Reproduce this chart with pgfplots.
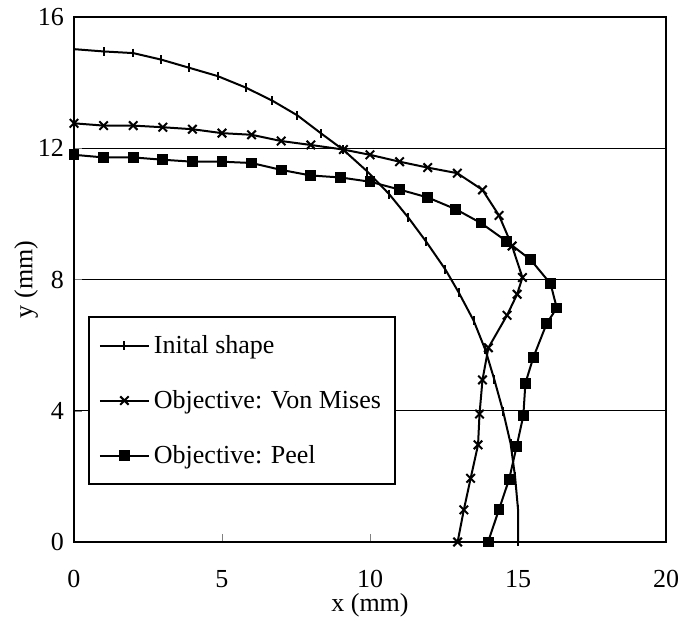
\documentclass[border=0pt]{standalone}
\usepackage{fontspec}
\setmainfont{Liberation Serif}
\usepackage{pgfplots}
\pgfplotsset{compat=1.18}

\begin{document}
\begin{tikzpicture}[font=\fontsize{13}{15.6}\selectfont]
  \begin{axis}[
    scale only axis,
    width=296pt, height=262.5pt,
    xmin=0, xmax=20, ymin=0, ymax=16,
    xtick={0,5,10,15,20},
    ytick={0,4,8,12,16},
    tick pos=left,
    tick align=inside,
    major tick length=4pt,
    axis line style={line width=1pt},
    ymajorgrids,
    major grid style={black, line width=0.7pt},
    /pgf/number format/assume math mode=true,
    xticklabel style={yshift=-10.5pt},
    yticklabel style={xshift=-1.5pt},
    xlabel={x (mm)},
    ylabel={y (mm)},
    xlabel style={at={(axis description cs:0.5,-0.12)}, anchor=center},
    ylabel style={at={(axis description cs:-0.081,0.5)}, anchor=center},
    clip=false,
    legend cell align=left,
    legend style={
      at={(axis description cs:0.0236,0.4305)}, anchor=north west,
      draw=black, line width=1pt, fill=white,
      inner xsep=5pt, inner ysep=7pt, row sep=13pt,
      nodes={inner sep=2pt, line width=1pt},
    },
    legend image code/.code={
      \draw[mark repeat=2,mark phase=2,#1]
        plot coordinates {(0cm,0cm) (0.43cm,0cm) (0.86cm,0cm)};
    },
    every axis plot/.append style={black, line width=1pt, mark options={solid}},
  ]
    \addplot[mark=|, mark size=2.2pt] coordinates {
      (0,15.02) (1,14.95) (2,14.9) (2.95,14.7) (3.9,14.45) (4.85,14.2)
      (5.8,13.85) (6.7,13.45) (7.55,13.0) (8.35,12.45) (9.1,11.95)
      (9.9,11.3) (10.65,10.6) (11.3,9.88) (11.9,9.15) (12.55,8.3)
      (13.0,7.6) (13.5,6.75) (13.9,5.85) (14.2,4.95) (14.5,3.97)
      (14.75,3.0) (14.9,2.0) (15.0,1.0) (15.0,0)
    };
    \addlegendentry{Inital shape}
    \addplot[mark=x, mark size=3pt] coordinates {
      (0,12.76) (1,12.69) (2,12.69) (3,12.64) (4,12.58) (5,12.46)
      (6,12.41) (7,12.22) (8,12.1) (9.1,11.96) (10,11.8) (11,11.59)
      (11.95,11.41) (12.95,11.24) (13.8,10.73) (14.36,9.95) (14.8,9.02)
      (15.15,8.06) (14.97,7.55) (14.63,6.91) (14.0,5.92) (13.8,4.94)
      (13.7,3.9) (13.65,2.96) (13.4,1.94) (13.17,0.98) (12.96,0)
    };
    \addlegendentry{Objective: Von Mises}
    \addplot[mark=square*, mark size=2.2pt] coordinates {
      (0,11.8) (1,11.72) (2,11.72) (3,11.65) (4,11.59) (5,11.59)
      (6,11.55) (7,11.34) (8,11.17) (9,11.11) (10,10.98) (11,10.74)
      (11.95,10.5) (12.9,10.14) (13.75,9.72) (14.62,9.16) (15.43,8.6)
      (16.1,7.87) (16.31,7.13) (15.97,6.66) (15.52,5.63) (15.25,4.84)
      (15.18,3.85) (14.95,2.9) (14.7,1.91) (14.36,1.0) (13.99,0)
    };
    \addlegendentry{Objective: Peel}
  \end{axis}
  \pgfresetboundingbox
  \path ([shift={(-37pt,-39.5pt)}]current axis.south west)
    rectangle ([shift={(7.5pt,8.5pt)}]current axis.north east);
\end{tikzpicture}
\end{document}
